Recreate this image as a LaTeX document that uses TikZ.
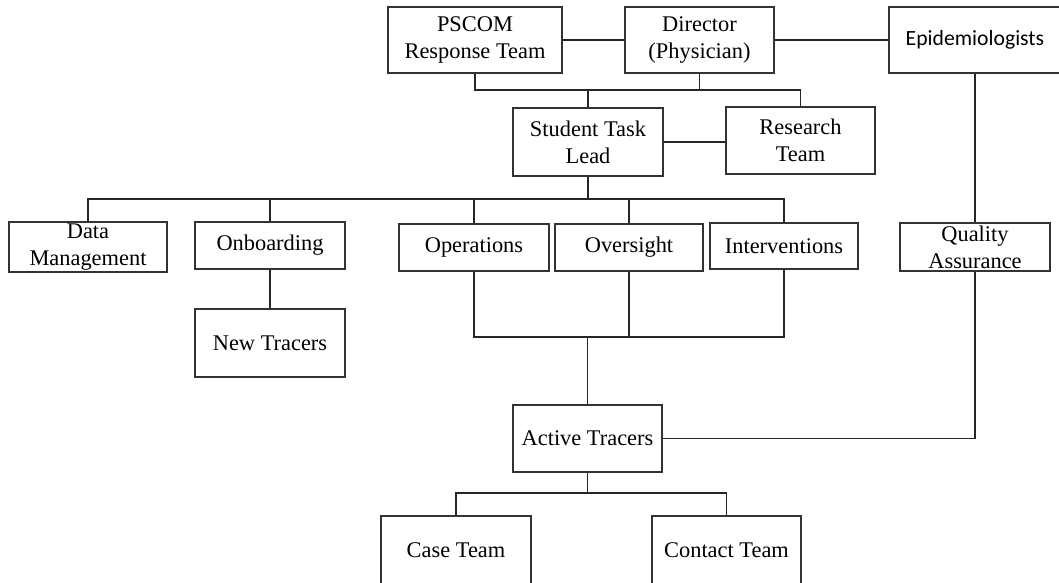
\documentclass[tikz,border=0pt]{standalone}
\usepackage{fontspec}
\setmainfont{Liberation Serif}
\newfontfamily\epifont{Carlito}
\begin{document}
\begin{tikzpicture}[x=1pt,y=-1pt,
    box/.style={draw=black!80, line width=1.3pt, inner sep=0pt, align=center,
      font=\fontsize{22.4}{27}\selectfont},
    link/.style={draw=black!85, line width=1.9pt}]
    \useasboundingbox (0,0) rectangle (1059,582);
    % top row
    \node[box, minimum width=174, minimum height=66] (pscom) at (475,40) {PSCOM\\Response Team};
    \node[box, minimum width=149, minimum height=66] (director) at (699.5,40) {Director\\(Physician)};
    \node[box, minimum width=172, minimum height=66, font=\epifont\fontsize{21.7}{26}\selectfont] (epi) at (975,40) {Epidemiologists};
    \node[box, minimum width=150, minimum height=68] (lead) at (588,142) {Student Task\\Lead};
    \node[box, minimum width=149, minimum height=67] (research) at (800.5,140.5) {Research\\Team};
    % second row
    \node[box, minimum width=158, minimum height=50] (data) at (88,247) {Data\\Management};
    \node[box, minimum width=150, minimum height=47] (onboard) at (270,245.5) {Onboarding};
    \node[box, minimum width=150, minimum height=47] (ops) at (474,247.5) {Operations};
    \node[box, minimum width=148, minimum height=47] (oversight) at (629,247.5) {Oversight};
    \node[box, minimum width=148, minimum height=46] (interv) at (784,246) {Interventions};
    \node[box, minimum width=150, minimum height=48] (quality) at (975,247) {Quality\\Assurance};
    \node[box, minimum width=150, minimum height=68] (newtr) at (270,343) {New Tracers};
    % tracers
    \node[box, minimum width=149, minimum height=67] (active) at (587.5,438.5) {Active Tracers};
    \node[box, minimum width=150, minimum height=68] (case) at (456,550) {Case Team};
    \node[box, minimum width=149, minimum height=68] (contact) at (726.5,550) {Contact Team};

    \coordinate (busA) at (0,90);
    \coordinate (busB) at (0,199);
    \coordinate (busC) at (0,337);
    \coordinate (busD) at (0,493);

    \draw[link] (pscom) -- (director);
    \draw[link] (director) -- (epi);
    \draw[link] (pscom.south) -- (pscom.south |- busA) -| (research.north);
    \draw[link] (director.south) -- (director.south |- busA);
    \draw[link] (lead.north) -- (lead.north |- busA);
    \draw[link] (lead.east) -- (lead.east -| research.west);
    \draw[link] (lead.south) -- (lead.south |- busB);
    \draw[link] (data.north) -- (data.north |- busB) -| (interv.north);
    \draw[link] (onboard.north) -- (onboard.north |- busB);
    \draw[link] (ops.north) -- (ops.north |- busB);
    \draw[link] (oversight.north) -- (oversight.north |- busB);
    \draw[link] (onboard) -- (newtr);
    \draw[link] (ops.south) -- (ops.south |- busC) -| (interv.south);
    \draw[link] (oversight.south) -- (oversight.south |- busC);
    \draw[link] (active.north) -- (active.north |- busC);
    \draw[link] (epi) -- (quality);
    \draw[link] (quality.south) |- (active.east);
    \draw[link] (active.south) -- (active.south |- busD);
    \draw[link] (case.north) -- (case.north |- busD) -| (contact.north);
\end{tikzpicture}
\end{document}
